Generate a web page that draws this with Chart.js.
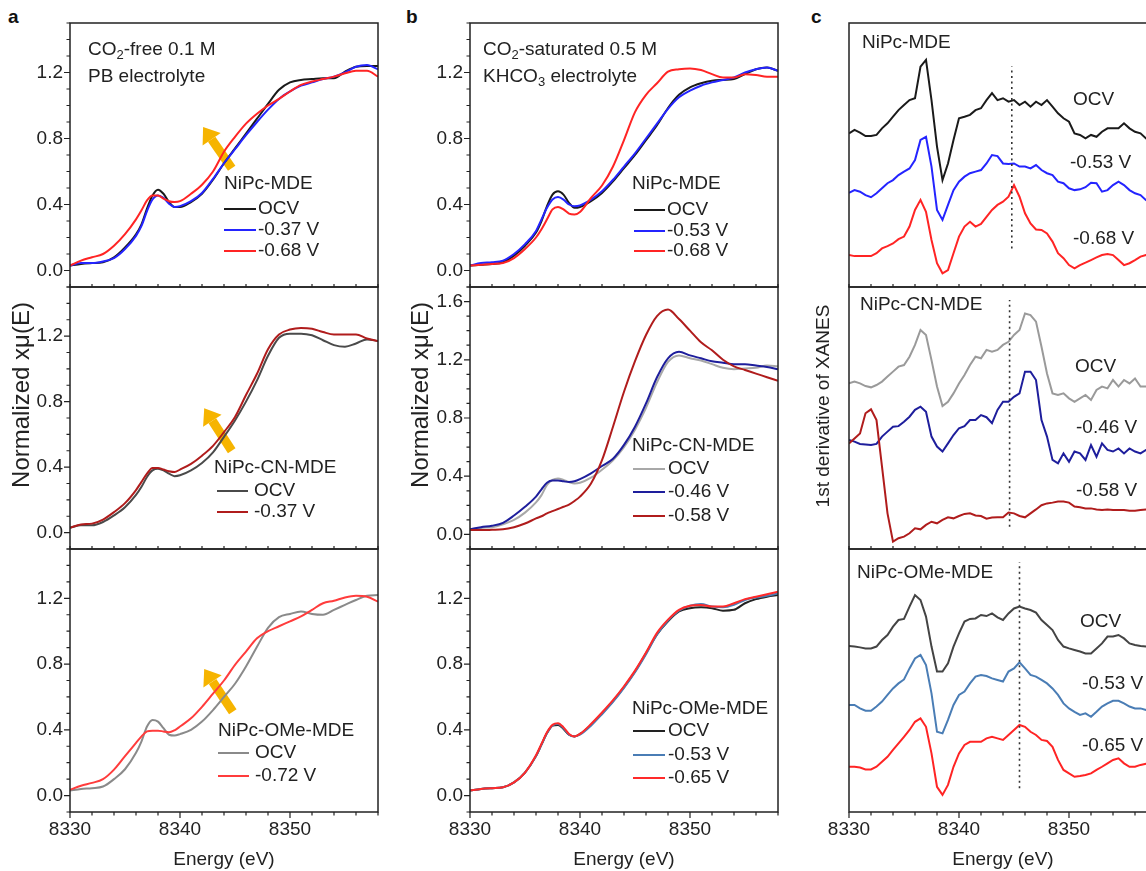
<!DOCTYPE html>
<html>
<head>
<meta charset="utf-8">
<script src="https://cdn.jsdelivr.net/npm/chart.js@4.4.1/dist/chart.umd.min.js"></script>
<style>
  html, body { margin: 0; background: #fff; }
  #fig { position: relative; width: 1146px; height: 871px; overflow: hidden; background: #fff; }
  #fig canvas { position: absolute; }
  .tag { position: absolute; font: bold 19px "Liberation Sans", Arial, sans-serif; line-height: 19px; color: #111; }
</style>
</head>
<body>
<div id="fig">
  <div class="tag" style="left:8px;top:7px">a</div>
  <div class="tag" style="left:406px;top:7px">b</div>
  <div class="tag" style="left:811px;top:7px">c</div>
</div>
<script>
// energy grids (eV)
const E_XAS = [8330,8331,8332,8333,8334,8335,8336,8336.5,8337,8337.5,8338,8338.5,8339,8339.5,8340,8341,8342,8343,8344,8345,8346,8347,8348,8349,8350,8351,8352,8353,8354,8355,8356,8357,8358];
const E_DER = [8330,8330.5,8331,8331.5,8332,8332.5,8333,8333.5,8334,8334.5,8335,8335.5,8336,8336.5,8337,8337.5,8338,8338.5,8339,8339.5,8340,8340.5,8341,8341.5,8342,8342.5,8343,8343.5,8344,8344.5,8345,8345.5,8346,8346.5,8347,8347.5,8348,8348.5,8349,8349.5,8350,8350.5,8351,8351.5,8352,8352.5,8353,8353.5,8354,8354.5,8355,8355.5,8356,8356.5,8357,8357.5,8358];

const X_TICKS = [8330, 8340, 8350];
const Y_TICKS = [0, 0.4, 0.8, 1.2];
const Y_TICKS_TALL = [0, 0.4, 0.8, 1.2, 1.6];

// panel a: CO2-free 0.1 M PB
const a1_ocv  = [0.03,0.04,0.045,0.05,0.08,0.14,0.22,0.28,0.375,0.455,0.49,0.465,0.415,0.385,0.385,0.415,0.465,0.55,0.65,0.74,0.83,0.92,1.01,1.095,1.14,1.155,1.16,1.165,1.165,1.205,1.235,1.24,1.24];
const a1_m037 = [0.03,0.045,0.045,0.055,0.075,0.13,0.21,0.27,0.36,0.43,0.455,0.44,0.405,0.385,0.39,0.42,0.47,0.555,0.65,0.735,0.82,0.90,0.975,1.04,1.085,1.12,1.14,1.16,1.175,1.20,1.235,1.245,1.22];
const a1_m068 = [0.03,0.06,0.08,0.10,0.15,0.22,0.31,0.365,0.425,0.455,0.455,0.435,0.42,0.415,0.42,0.465,0.52,0.60,0.72,0.81,0.89,0.95,1.0,1.04,1.085,1.125,1.145,1.16,1.175,1.195,1.21,1.21,1.175];
const a2_ocv  = [0.03,0.045,0.045,0.065,0.105,0.155,0.23,0.28,0.34,0.38,0.39,0.38,0.36,0.345,0.35,0.38,0.425,0.49,0.585,0.685,0.80,0.93,1.08,1.19,1.215,1.215,1.205,1.175,1.145,1.135,1.155,1.18,1.17];
const a2_m037 = [0.03,0.05,0.055,0.08,0.125,0.18,0.26,0.31,0.36,0.395,0.395,0.385,0.375,0.37,0.385,0.42,0.47,0.53,0.614,0.706,0.84,0.97,1.12,1.21,1.24,1.25,1.245,1.225,1.21,1.21,1.21,1.185,1.17];
const a3_ocv  = [0.03,0.04,0.045,0.055,0.10,0.16,0.26,0.33,0.42,0.46,0.45,0.41,0.37,0.365,0.374,0.40,0.45,0.52,0.60,0.68,0.785,0.905,1.02,1.085,1.105,1.12,1.105,1.10,1.13,1.16,1.19,1.215,1.22];
const a3_m072 = [0.035,0.06,0.077,0.10,0.158,0.24,0.32,0.36,0.39,0.395,0.395,0.39,0.385,0.397,0.42,0.47,0.54,0.62,0.70,0.795,0.876,0.957,1.0,1.03,1.06,1.09,1.13,1.17,1.185,1.205,1.215,1.21,1.18];

// panel b: CO2-saturated 0.5 M KHCO3
const b1_ocv  = [0.03,0.035,0.04,0.05,0.09,0.15,0.23,0.30,0.39,0.46,0.48,0.46,0.41,0.38,0.385,0.42,0.47,0.54,0.62,0.70,0.79,0.88,0.985,1.065,1.11,1.135,1.15,1.155,1.16,1.19,1.22,1.23,1.21];
const b1_m053 = [0.03,0.045,0.05,0.06,0.10,0.16,0.24,0.31,0.38,0.43,0.445,0.43,0.40,0.39,0.395,0.43,0.48,0.55,0.63,0.71,0.80,0.89,0.98,1.05,1.09,1.12,1.14,1.155,1.17,1.20,1.22,1.23,1.21];
const b1_m068 = [0.03,0.035,0.04,0.045,0.075,0.13,0.20,0.25,0.31,0.37,0.385,0.37,0.345,0.34,0.355,0.44,0.515,0.63,0.79,0.96,1.065,1.135,1.205,1.22,1.225,1.215,1.19,1.17,1.17,1.19,1.185,1.175,1.175];
const b2_ocv  = [0.03,0.045,0.05,0.07,0.10,0.15,0.22,0.27,0.34,0.375,0.385,0.375,0.36,0.35,0.355,0.39,0.445,0.51,0.60,0.72,0.87,1.045,1.185,1.23,1.21,1.195,1.17,1.145,1.135,1.14,1.145,1.16,1.155];
const b2_m046 = [0.035,0.05,0.06,0.08,0.13,0.19,0.26,0.31,0.355,0.37,0.37,0.365,0.36,0.365,0.38,0.42,0.47,0.52,0.615,0.74,0.90,1.08,1.21,1.255,1.23,1.21,1.19,1.18,1.17,1.17,1.16,1.15,1.135];
const b2_m058 = [0.03,0.03,0.032,0.035,0.05,0.075,0.11,0.125,0.145,0.16,0.175,0.19,0.205,0.23,0.26,0.35,0.51,0.74,0.98,1.19,1.37,1.50,1.545,1.48,1.40,1.32,1.265,1.20,1.155,1.13,1.105,1.08,1.055];
const b3_ocv  = [0.03,0.04,0.045,0.05,0.08,0.14,0.24,0.31,0.38,0.425,0.43,0.405,0.37,0.36,0.375,0.43,0.50,0.575,0.66,0.755,0.866,0.98,1.06,1.12,1.14,1.145,1.14,1.125,1.13,1.17,1.195,1.21,1.22];
const b3_m053 = [0.03,0.04,0.045,0.05,0.08,0.14,0.24,0.31,0.38,0.425,0.435,0.41,0.37,0.36,0.37,0.425,0.495,0.57,0.655,0.75,0.86,0.98,1.065,1.125,1.155,1.165,1.15,1.145,1.16,1.19,1.205,1.215,1.23];
const b3_m065 = [0.03,0.04,0.045,0.05,0.08,0.14,0.245,0.315,0.385,0.43,0.44,0.415,0.375,0.36,0.375,0.435,0.505,0.58,0.665,0.76,0.87,0.99,1.07,1.13,1.155,1.16,1.15,1.15,1.17,1.195,1.21,1.225,1.24];

// panel c: 1st derivative, offset for display (arb. units)
const c1_ocv  = [58.2,59.5,58.5,57.2,57.2,57.6,60.1,62.0,64.5,67.0,68.9,70.8,71.5,83.5,86.0,70.8,53.2,40.5,46.8,55.7,63.9,64.5,65.2,67.0,67.7,70.8,73.4,70.8,71.5,70.2,70.8,68.9,70.2,68.3,70.2,68.9,70.8,68.3,65.8,63.9,62.6,58.2,57.6,56.3,57.6,56.9,58.8,60.1,60.1,60.1,62.0,60.1,58.8,58.2,56.3,56.9,57.6];
const c1_m053 = [35.7,36.7,36.1,34.8,34.0,35.5,37.4,39.3,40.5,42.4,43.7,44.9,48.1,55.7,56.9,45.6,29.2,25.4,31.1,36.7,39.9,41.8,43.1,43.7,44.3,46.8,50.0,49.6,46.8,46.6,46.8,45.6,45.6,44.9,46.2,44.3,43.1,42.4,39.9,39.3,37.4,36.7,37.0,37.8,39.5,39.3,36.1,36.7,38.6,39.9,38.6,36.7,35.5,34.8,32.9,32.3,31.7];
const c1_m068 = [12.1,11.7,11.7,11.7,11.7,12.8,14.6,15.5,16.5,18.1,19.1,22.9,29.2,33.0,28.5,17.8,9.0,5.2,6.4,12.8,19.1,22.9,24.7,22.9,23.9,26.6,29.2,31.1,32.3,34.2,38.6,34.2,27.9,24.1,21.8,21.6,20.3,17.2,12.8,10.9,8.3,7.1,8.3,9.2,10.2,11.2,12.1,12.5,12.1,10.2,8.3,9.0,10.2,11.5,12.1,12.5,12.8];
const c2_ocv  = [63.2,63.9,63.2,62.2,61.7,62.6,63.9,65.8,67.7,69.6,70.2,73.4,77.9,83.6,81.7,72.1,62.0,54.6,56.2,59.4,63.2,66.4,70.2,73.4,72.8,76.0,75.3,76.0,77.9,79.1,81.7,83.6,89.9,89.3,86.8,77.2,67.0,59.4,58.8,59.4,57.5,56.2,57.5,58.8,56.9,60.7,62.0,61.3,64.5,62.0,64.5,63.2,65.1,62.0,62.0,62.6,62.0];
const c2_m046 = [41.6,41.0,40.1,39.9,39.7,40.1,42.9,44.8,46.7,46.9,48.6,50.5,53.1,54.3,52.4,42.9,39.1,37.2,40.3,43.5,46.1,46.9,49.2,49.2,51.1,50.3,48.0,53.1,56.2,56.2,58.1,59.4,67.7,67.7,64.5,49.2,42.9,34.0,32.7,36.5,33.3,37.2,36.5,34.0,39.7,35.2,40.3,37.8,37.2,38.4,36.5,38.4,37.2,36.5,37.8,35.9,36.5];
const c2_m058 = [40.3,42.2,44.1,51.8,53.3,49.2,31.4,13.6,2.8,4.1,4.7,6.0,7.9,7.5,9.2,10.4,9.8,11.1,12.1,11.7,12.6,13.4,13.6,12.8,12.6,11.6,12.0,12.1,12.1,13.9,13.6,12.6,12.1,13.6,15.1,16.7,17.4,17.7,18.1,18.1,17.7,16.2,15.9,15.5,15.5,15.1,14.9,15.1,14.9,14.9,14.9,14.6,14.6,14.9,15.1,15.1,15.4];
const c3_ocv  = [63.1,62.9,62.6,62.2,62.2,62.9,65.4,67.3,70.5,73.0,73.4,78.1,82.5,80.6,74.3,62.9,53.4,53.4,56.5,62.9,67.9,72.4,73.4,73.6,74.9,74.5,75.5,74.0,73.0,75.5,77.4,78.1,77.4,76.8,75.8,73.0,71.1,69.2,65.4,62.9,62.2,61.6,61.0,60.3,60.3,62.2,64.1,66.7,66.7,67.3,66.0,64.1,63.5,63.1,62.9,62.9,62.9];
const c3_m053 = [40.7,40.7,39.4,38.5,38.5,40.1,42.0,44.5,47.0,48.9,50.4,54.6,58.4,59.7,55.9,45.1,30.5,29.9,35.0,40.7,44.5,45.8,48.9,51.5,52.1,51.7,50.8,50.2,49.6,53.4,54.6,56.9,54.6,52.1,51.5,50.2,48.9,47.0,44.5,41.3,39.4,38.1,36.9,37.5,36.2,38.1,40.1,41.3,42.3,42.3,41.3,40.1,39.4,39.4,38.8,38.5,38.5];
const c3_m065 = [17.2,17.2,16.9,16.2,16.2,17.2,19.1,21.0,23.6,26.1,28.6,31.2,34.3,35.6,32.4,22.3,9.6,6.5,10.3,17.2,22.3,25.5,26.7,26.7,26.7,28.0,28.6,28.0,27.4,29.3,31.2,33.1,32.4,30.5,29.3,27.4,27.0,24.8,19.8,16.0,14.7,13.4,13.7,14.1,14.7,16.0,17.2,18.5,19.8,20.4,18.5,17.2,17.2,17.9,18.3,18.3,18.3];

const FONT = '"Liberation Sans", Arial, sans-serif';
Chart.defaults.font.family = FONT;
Chart.defaults.font.size = 19;
Chart.defaults.color = '#222';

const fig = document.getElementById('fig');
const COLS = [[70, 378], [470, 778], [849, 1157]];
const ROWS = [[23, 287], [287, 549], [549, 812]];

function rich(ctx, parts, x, y, size) {
  let cx = x;
  for (const p of parts) {
    const s = p.sub ? Math.round(size * 0.68) : size;
    ctx.font = s + 'px ' + FONT;
    ctx.fillText(p.t, cx, y + (p.sub ? size * 0.3 : 0));
    cx += ctx.measureText(p.t).width;
  }
}

const decor = {
  id: 'decor',
  beforeDatasetsDraw(chart, args, o) {
    if (!o.arrow) return;
    const { ctx, scales: { x, y } } = chart;
    const [t, h] = o.arrow;
    const x0 = x.getPixelForValue(t[0]), y0 = y.getPixelForValue(t[1]);
    const x1 = x.getPixelForValue(h[0]), y1 = y.getPixelForValue(h[1]);
    const ang = Math.atan2(y1 - y0, x1 - x0), hl = 15, hw = 11;
    const bx = x1 - hl * Math.cos(ang), by = y1 - hl * Math.sin(ang);
    ctx.save();
    ctx.strokeStyle = ctx.fillStyle = '#f6b400';
    ctx.lineWidth = 9;
    ctx.beginPath(); ctx.moveTo(x0, y0); ctx.lineTo(bx, by); ctx.stroke();
    ctx.beginPath();
    ctx.moveTo(x1, y1);
    ctx.lineTo(bx + hw * Math.sin(ang), by - hw * Math.cos(ang));
    ctx.lineTo(bx - hw * Math.sin(ang), by + hw * Math.cos(ang));
    ctx.closePath(); ctx.fill();
    ctx.restore();
  },
  afterDatasetsDraw(chart, args, o) {
    const { ctx, chartArea: a, scales: { x, y } } = chart;
    const ox = o.ox, oy = o.oy;
    ctx.save();
    if (o.vline) {
      ctx.strokeStyle = '#333'; ctx.lineWidth = 1.6; ctx.setLineDash([2, 3.5]);
      const px = x.getPixelForValue(o.vline[0]);
      ctx.beginPath();
      ctx.moveTo(px, y.getPixelForValue(o.vline[1]));
      ctx.lineTo(px, y.getPixelForValue(o.vline[2]));
      ctx.stroke();
      ctx.setLineDash([]);
    }
    // frame
    ctx.strokeStyle = '#222'; ctx.lineWidth = 1.5;
    ctx.strokeRect(a.left, a.top, a.right - a.left, a.bottom - a.top);
    // tick marks
    ctx.lineWidth = 1.2;
    ctx.beginPath();
    for (let v = 8330; v <= x.max; v += 2) {
      const px = x.getPixelForValue(v);
      const len = o.bottom ? (v % 10 === 0 ? 6 : 3.5) : -3;
      ctx.moveTo(px, a.bottom); ctx.lineTo(px, a.bottom + len);
    }
    if (o.yMinor) {
      for (let k = Math.ceil(y.min * 10); k <= Math.floor(y.max * 10); k++) {
        const py = y.getPixelForValue(k / 10);
        const len = k % 4 === 0 ? 6 : 3.5;
        ctx.moveTo(a.left, py); ctx.lineTo(a.left - len, py);
      }
    }
    ctx.stroke();
    // texts
    ctx.fillStyle = '#222'; ctx.textAlign = 'left'; ctx.textBaseline = 'middle';
    (o.notes || []).forEach(n => rich(ctx, n.parts, n.x - ox, n.y - oy, 19));
    if (o.legend) {
      const L = o.legend;
      ctx.font = '19px ' + FONT;
      ctx.fillText(L.title, L.tX - ox, L.ty - oy);
      chart.data.datasets.forEach((d, i) => {
        const ry = L.rows[i] - oy;
        ctx.strokeStyle = d.borderColor; ctx.lineWidth = 2;
        ctx.beginPath(); ctx.moveTo(L.lx0 - ox, ry); ctx.lineTo(L.lx1 - ox, ry); ctx.stroke();
        ctx.fillText(d.label, L.tx - ox, ry);
      });
    }
    if (o.ytitle) {
      const T = o.ytitle;
      ctx.translate(T.x - ox, T.y - oy);
      ctx.rotate(-Math.PI / 2);
      ctx.textAlign = 'center';
      ctx.font = T.size + 'px ' + FONT;
      ctx.fillText(T.text, 0, 0);
    }
    ctx.restore();
  }
};

function panel(cfg) {
  const [l, r] = COLS[cfg.col], [t, b] = ROWS[cfg.row];
  const bottom = cfg.row === 2;
  const padL = 70, padT = 10, padR = 10, xh = bottom ? 59 : 0, padB = bottom ? 0 : 10;
  const cv = document.createElement('canvas');
  cv.width = r - l + padL + padR;
  cv.height = b - t + padT + xh + padB;
  const ox = l - padL, oy = t - padT;
  cv.style.left = ox + 'px';
  cv.style.top = oy + 'px';
  fig.appendChild(cv);
  const n = cfg.series.length;
  const yTicks = cfg.yTicks || [];
  new Chart(cv, {
    type: 'line',
    data: {
      datasets: cfg.series.map((s, i) => ({
        label: s[1],
        data: cfg.E.map((e, k) => ({ x: e, y: s[0][k] })),
        borderColor: s[2],
        borderWidth: 2,
        pointRadius: 0,
        fill: false,
        order: n - i,
        tension: cfg.smooth ? 0.4 : 0,
        cubicInterpolationMode: cfg.smooth ? 'monotone' : 'default'
      }))
    },
    options: {
      responsive: false,
      animation: false,
      events: [],
      layout: { padding: { left: 0, top: padT, right: padR, bottom: padB } },
      plugins: {
        legend: { display: false },
        tooltip: { enabled: false },
        decor: {
          ox, oy, bottom, yMinor: yTicks.length > 0,
          arrow: cfg.arrow, vline: cfg.vline, notes: cfg.notes,
          legend: cfg.legend, ytitle: cfg.ytitle
        }
      },
      scales: {
        x: {
          type: 'linear', min: 8330, max: 8358,
          afterBuildTicks: s => { s.ticks = X_TICKS.map(v => ({ value: v })); },
          afterFit: s => { s.height = xh; s.paddingLeft = 0; s.paddingRight = 0; },
          grid: { display: false, drawTicks: false },
          border: { display: false },
          ticks: { display: bottom, padding: 6, color: '#222', callback: v => String(v) },
          title: { display: bottom, text: 'Energy (eV)', padding: 0, color: '#222' }
        },
        y: {
          type: 'linear', min: cfg.yMin, max: cfg.yMax,
          afterBuildTicks: s => { s.ticks = yTicks.map(v => ({ value: v })); },
          afterFit: s => { s.width = padL; s.paddingTop = 0; s.paddingBottom = 0; },
          grid: { display: false, drawTicks: false },
          border: { display: false },
          ticks: { display: yTicks.length > 0, padding: 7, color: '#222', callback: v => v.toFixed(1) }
        }
      }
    },
    plugins: [decor]
  });
}

const Y_TITLE_XAS = 'Normalized x\u03bc(E)';

// column a
panel({ col: 0, row: 0, E: E_XAS, smooth: true, yMin: -0.1, yMax: 1.5, yTicks: Y_TICKS,
  series: [[a1_ocv, 'OCV', '#1a1a1a'], [a1_m037, '-0.37 V', '#2424ff'], [a1_m068, '-0.68 V', '#ff2424']],
  arrow: [[8344.7, 0.62], [8342.1, 0.87]],
  notes: [{ parts: [{ t: 'CO' }, { t: '2', sub: 1 }, { t: '-free 0.1 M' }], x: 88, y: 50 },
          { parts: [{ t: 'PB electrolyte' }], x: 88, y: 77 }],
  legend: { title: 'NiPc-MDE', tX: 224, ty: 184, lx0: 224, lx1: 256, tx: 258, rows: [209, 230, 251] } });
panel({ col: 0, row: 1, E: E_XAS, smooth: true, yMin: -0.1, yMax: 1.5, yTicks: Y_TICKS,
  series: [[a2_ocv, 'OCV', '#4a4a4a'], [a2_m037, '-0.37 V', '#b01c1c']],
  arrow: [[8344.7, 0.50], [8342.2, 0.76]],
  legend: { title: 'NiPc-CN-MDE', tX: 214, ty: 468, lx0: 217, lx1: 248, tx: 254, rows: [491, 512] },
  ytitle: { text: Y_TITLE_XAS, x: 22, y: 395, size: 24 } });
panel({ col: 0, row: 2, E: E_XAS, smooth: true, yMin: -0.1, yMax: 1.5, yTicks: Y_TICKS,
  series: [[a3_ocv, 'OCV', '#8a8a8a'], [a3_m072, '-0.72 V', '#ff3c3c']],
  arrow: [[8344.8, 0.51], [8342.2, 0.77]],
  legend: { title: 'NiPc-OMe-MDE', tX: 218, ty: 731, lx0: 218, lx1: 249, tx: 255, rows: [753, 776] } });

// column b
panel({ col: 1, row: 0, E: E_XAS, smooth: true, yMin: -0.1, yMax: 1.5, yTicks: Y_TICKS,
  series: [[b1_ocv, 'OCV', '#1a1a1a'], [b1_m053, '-0.53 V', '#2424ff'], [b1_m068, '-0.68 V', '#ff2424']],
  notes: [{ parts: [{ t: 'CO' }, { t: '2', sub: 1 }, { t: '-saturated 0.5 M' }], x: 483, y: 50 },
          { parts: [{ t: 'KHCO' }, { t: '3', sub: 1 }, { t: ' electrolyte' }], x: 483, y: 77 }],
  legend: { title: 'NiPc-MDE', tX: 632, ty: 184, lx0: 634, lx1: 665, tx: 667, rows: [210, 231, 251] } });
panel({ col: 1, row: 1, E: E_XAS, smooth: true, yMin: -0.1, yMax: 1.7, yTicks: Y_TICKS_TALL,
  series: [[b2_ocv, 'OCV', '#a8a8a8'], [b2_m046, '-0.46 V', '#1e1e9c'], [b2_m058, '-0.58 V', '#b01c1c']],
  legend: { title: 'NiPc-CN-MDE', tX: 632, ty: 446, lx0: 633, lx1: 665, tx: 668, rows: [469, 492, 516] },
  ytitle: { text: Y_TITLE_XAS, x: 421, y: 395, size: 24 } });
panel({ col: 1, row: 2, E: E_XAS, smooth: true, yMin: -0.1, yMax: 1.5, yTicks: Y_TICKS,
  series: [[b3_ocv, 'OCV', '#222222'], [b3_m053, '-0.53 V', '#4a7db5'], [b3_m065, '-0.65 V', '#ff2a2a']],
  legend: { title: 'NiPc-OMe-MDE', tX: 632, ty: 709, lx0: 633, lx1: 665, tx: 668, rows: [731, 755, 778] } });

// column c
panel({ col: 2, row: 0, E: E_DER, yMin: 0, yMax: 100,
  series: [[c1_ocv, 'OCV', '#1a1a1a'], [c1_m053, '-0.53 V', '#2424ff'], [c1_m068, '-0.68 V', '#ff2424']],
  vline: [8344.8, 14.6, 83.5],
  notes: [{ parts: [{ t: 'NiPc-MDE' }], x: 862, y: 43 }, { parts: [{ t: 'OCV' }], x: 1073, y: 100 },
          { parts: [{ t: '-0.53 V' }], x: 1070, y: 163 }, { parts: [{ t: '-0.68 V' }], x: 1073, y: 239 }] });
panel({ col: 2, row: 1, E: E_DER, yMin: 0, yMax: 100,
  series: [[c2_ocv, 'OCV', '#9a9a9a'], [c2_m046, '-0.46 V', '#1e1e9c'], [c2_m058, '-0.58 V', '#b01c1c']],
  vline: [8344.6, 8.5, 95],
  notes: [{ parts: [{ t: 'NiPc-CN-MDE' }], x: 860, y: 305 }, { parts: [{ t: 'OCV' }], x: 1075, y: 367 },
          { parts: [{ t: '-0.46 V' }], x: 1076, y: 428 }, { parts: [{ t: '-0.58 V' }], x: 1076, y: 491 }],
  ytitle: { text: '1st derivative of XANES', x: 824, y: 406, size: 19 } });
panel({ col: 2, row: 2, E: E_DER, yMin: 0, yMax: 100,
  series: [[c3_ocv, 'OCV', '#444444'], [c3_m053, '-0.53 V', '#4a7db5'], [c3_m065, '-0.65 V', '#ff2424']],
  vline: [8345.5, 9, 95],
  notes: [{ parts: [{ t: 'NiPc-OMe-MDE' }], x: 857, y: 573 }, { parts: [{ t: 'OCV' }], x: 1080, y: 622 },
          { parts: [{ t: '-0.53 V' }], x: 1082, y: 684 }, { parts: [{ t: '-0.65 V' }], x: 1082, y: 746 }] });
</script>
</body>
</html>
